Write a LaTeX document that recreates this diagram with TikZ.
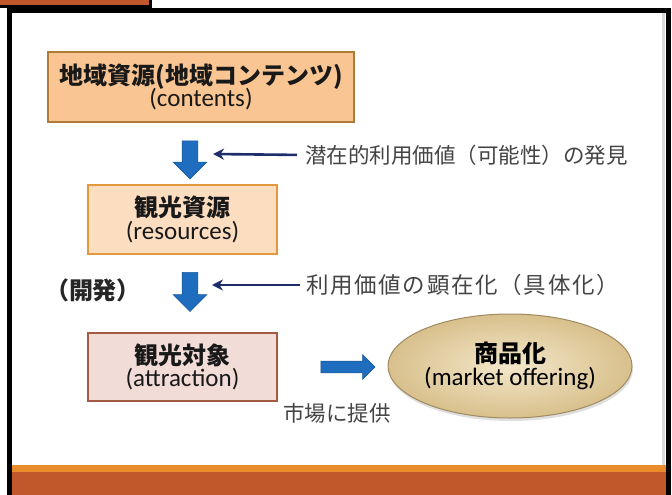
\documentclass[tikz,border=0pt]{standalone}
\usepackage{fontspec}
\setmainfont{Carlito}
\newfontfamily\jp{Noto Sans CJK JP}
\usetikzlibrary{shapes.arrows,shapes.geometric,shadows,arrows.meta}
\definecolor{rust}{HTML}{C0582B}
\definecolor{lorange}{HTML}{EB8C2C}
\definecolor{boxAfill}{HTML}{F9C592}
\definecolor{boxAline}{HTML}{B07A38}
\definecolor{boxBfill}{HTML}{FCDDC0}
\definecolor{boxBline}{HTML}{E3983C}
\definecolor{boxCfill}{HTML}{F2DCD8}
\definecolor{boxCline}{HTML}{A55A44}
\definecolor{arrblue}{HTML}{1F6DBF}
\definecolor{arrblueline}{HTML}{1A5A9E}
\definecolor{navy}{HTML}{1F2D6B}
\definecolor{txtgray}{HTML}{444444}
\definecolor{ellin}{HTML}{F3E7CA}
\definecolor{ellout}{HTML}{D8C08C}
\definecolor{ellline}{HTML}{A08A62}
\newcommand\jhead[1]{{\fontsize{24}{27}\selectfont\jp\bfseries #1}}
\newcommand\ensub[1]{{\normalfont\fontsize{25}{27}\selectfont #1}}
\begin{document}
\begin{tikzpicture}[x=1pt,y=-1pt,
  box/.style={draw, rectangle, align=center, inner sep=0pt, text=black!90},
  blockarrow/.style={single arrow, fill=arrblue, draw=arrblueline, line width=0.6pt,
     inner sep=0pt, inner ysep=7.5pt, minimum width=0pt, single arrow head extend=9pt},
  thinarr/.style={draw=navy, line width=2.6pt, -{Stealth[length=11pt,width=11pt]}},
  note/.style={inner sep=0pt, text=txtgray, font=\jp\fontsize{21.5}{24}\selectfont},
]
\useasboundingbox (0,0) rectangle (672,495);
% top bar
\fill[rust] (-5,-5) rectangle (150,6.5);
\draw[line width=3pt] (-5,6.5) -- (150,6.5) -- (150,-5);
% frame
\fill[white] (9.5,10.5) rectangle (668.5,520);
\draw[black!15, line width=3pt] (663.5,13) -- (663.5,466);
\draw[line width=4.5pt] (9.5,10.5) rectangle (668.5,520);
% bottom band
\fill[lorange] (11.75,465) rectangle (666.25,472);
\fill[rust] (11.75,471.5) rectangle (666.25,500);

% boxes
\node[box, fill=boxAfill, draw=boxAline, line width=2pt, minimum width=306pt, minimum height=70pt]
  (b1) at (201,87) {\jhead{地域資源(地域コンテンツ)}\\[-3pt]\ensub{(contents)}};
\node[box, fill=boxBfill, draw=boxBline, line width=2.5pt, minimum width=189pt, minimum height=69pt]
  (b2) at (182.5,219.5) {\jhead{観光資源}\\[1pt]\ensub{(resources)}};
\node[box, fill=boxCfill, draw=boxCline, line width=1.8pt, minimum width=189pt, minimum height=68pt]
  (b3) at (182.5,367) {\jhead{観光対象}\\[1pt]\ensub{(attraction)}};
\node[ellipse, inner sep=0pt, minimum width=244pt, minimum height=104pt,
  inner color=ellin, outer color=ellout, draw=ellline, line width=1pt, align=center,
  drop shadow={opacity=0.25, shadow xshift=1pt, shadow yshift=-3pt}]
  (e) at (510,366) {\jhead{商品化}\\[1pt]\ensub{(market offering)}};

% block arrows
\node[blockarrow, rotate=-90, minimum height=38pt] (a1) at (190,156) {};
\node[blockarrow, rotate=-90, minimum height=39pt] (a2) at (190,288) {};
\node[blockarrow, minimum height=54pt, inner ysep=5.5pt, single arrow head extend=6.5pt] (a3) at (345,367) {};

% annotations
\node[note, anchor=west] (t1) at (305,155) {潜在的利用価値（可能性）の発見};
\node[note, anchor=west, font=\jp\fontsize{22.5}{24}\selectfont\addfontfeature{LetterSpace=7.5}] (t2) at (306,285) {利用価値の顕在化（具体化）};
\node[note] (t3) at (337,413) {市場に提供};
\node[inner sep=0pt, text=black!85, font=\jp\bfseries\fontsize{24}{26}\selectfont] (t4) at (93,290) {（開発）};

\coordinate (p1) at (213,154);
\coordinate (p2) at (212,285);
\draw[thinarr, shorten <=8pt] (t1.west) -- (p1);
\draw[thinarr, shorten <=6pt] (t2.west) -- (p2);
\end{tikzpicture}
\end{document}
